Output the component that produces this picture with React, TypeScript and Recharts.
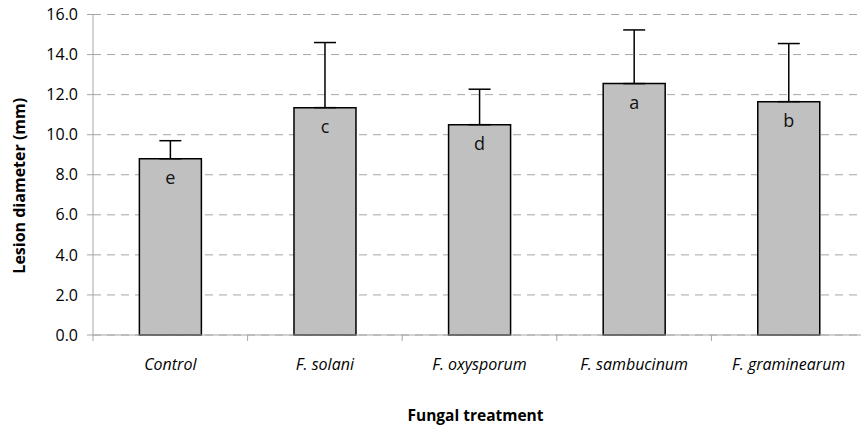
import React from "react";
import {
  BarChart,
  Bar,
  XAxis,
  YAxis,
  CartesianGrid,
  ErrorBar,
  LabelList,
} from "recharts";

const categories = ["Control", "F. solani", "F. oxysporum", "F. sambucinum", "F. graminearum"];
const means = [8.8, 11.35, 10.5, 12.55, 11.65];
const upperErrors = [0.9, 3.25, 1.77, 2.68, 2.9];
const letters = ["e", "c", "d", "a", "b"];
const yTicks = [0, 2, 4, 6, 8, 10, 12, 14, 16];

const data = categories.map((name, i) => ({
  name,
  mean: means[i],
  err: [0, upperErrors[i]],
  letter: letters[i],
}));

const FONT = "'Open Sans', sans-serif";
const AXIS_GREY = "#a6a6a6";

function CategoryTick(props: any) {
  const { x, y, payload, index, width, visibleTicksCount } = props;
  const step = width / (visibleTicksCount || 5);
  const axisY = y - 8;
  return (
    <g>
      {index === 0 && (
        <line x1={x - step / 2} x2={x - step / 2} y1={axisY} y2={axisY + 6} stroke={AXIS_GREY} />
      )}
      <line x1={x + step / 2} x2={x + step / 2} y1={axisY} y2={axisY + 6} stroke={AXIS_GREY} />
      <text
        x={x}
        y={y + 27}
        textAnchor="middle"
        fontStyle="italic"
        fontSize={16}
        fontFamily={FONT}
        fill="#000"
      >
        {payload.value}
      </text>
    </g>
  );
}

function YTitle(props: any) {
  const { viewBox } = props;
  const cx = 18.5;
  const cy = viewBox.y + viewBox.height / 2 + 11;
  return (
    <text
      x={cx}
      y={cy}
      transform={`rotate(-90, ${cx}, ${cy})`}
      textAnchor="middle"
      dominantBaseline="central"
      fontWeight="bold"
      fontSize={16}
      fontFamily={FONT}
      fill="#000"
    >
      Lesion diameter (mm)
    </text>
  );
}

function XTitle(props: any) {
  const { viewBox } = props;
  return (
    <text
      x={viewBox.x + viewBox.width / 2 - 4}
      y={421}
      textAnchor="middle"
      fontWeight="bold"
      fontSize={15.5}
      fontFamily={FONT}
      fill="#000"
    >
      Fungal treatment
    </text>
  );
}

function LetterLabel(props: any) {
  const { x, y, width, value } = props;
  return (
    <text
      x={x + width / 2}
      y={y + 25}
      textAnchor="middle"
      fontSize={18}
      fontFamily={FONT}
      fill="#111"
    >
      {value}
    </text>
  );
}

export default function App() {
  return (
    <div
      style={{
        position: "absolute",
        left: 0,
        top: 0,
        width: 861,
        height: 427,
        overflow: "hidden",
        background: "#fff",
      }}
    >
      <BarChart
        width={866}
        height={427}
        data={data}
        margin={{ top: 14.5, right: 0, left: 0, bottom: 0 }}
        barCategoryGap="30%"
      >
        <CartesianGrid vertical={false} stroke={AXIS_GREY} strokeDasharray="8 6" />
        <XAxis
          dataKey="name"
          height={92}
          axisLine={{ stroke: AXIS_GREY }}
          tickLine={false}
          tickSize={6}
          tickMargin={2}
          interval={0}
          tick={<CategoryTick />}
          label={<XTitle />}
        />
        <YAxis
          width={93}
          domain={[0, 16]}
          ticks={yTicks}
          interval={0}
          tickFormatter={(v) => v.toFixed(1)}
          axisLine={{ stroke: AXIS_GREY }}
          tickLine={{ stroke: AXIS_GREY }}
          tickSize={6}
          tickMargin={9}
          tick={{ fill: "#000", fontSize: 16, fontFamily: FONT }}
          label={<YTitle />}
        />
        <Bar
          dataKey="mean"
          fill="#c0c0c0"
          stroke="#000"
          strokeWidth={1.5}
          isAnimationActive={false}
        >
          <ErrorBar dataKey="err" direction="y" width={11} stroke="#000" strokeWidth={1.5} />
          <LabelList dataKey="letter" content={<LetterLabel />} />
        </Bar>
      </BarChart>
    </div>
  );
}
